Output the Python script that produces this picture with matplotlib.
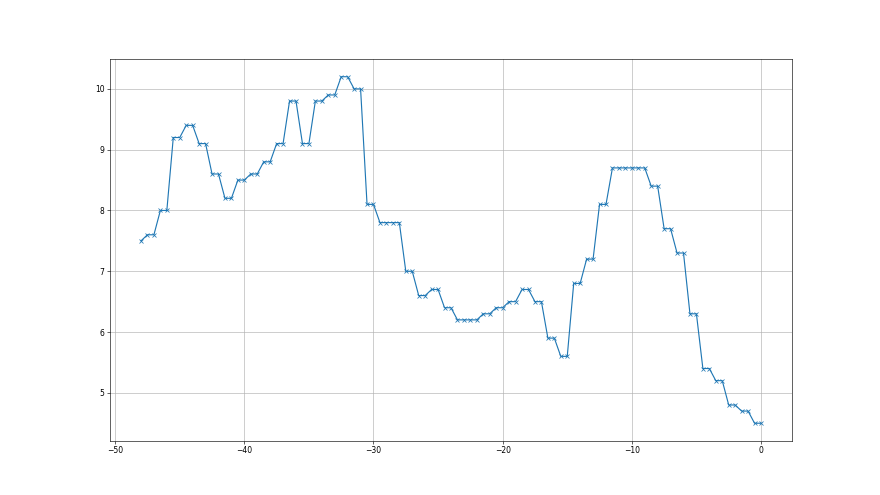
import matplotlib
matplotlib.use("Agg")
import matplotlib.pyplot as plt

hours = [-48, -47.5, -47, -46.5, -46, -45.5, -45, -44.5, -44, -43.5, -43, -42.5, -42,
         -41.5, -41, -40.5, -40, -39.5, -39, -38.5, -38, -37.5, -37, -36.5, -36,
         -35.5, -35, -34.5, -34, -33.5, -33, -32.5, -32, -31.5, -31, -30.5, -30,
         -29.5, -29, -28.5, -28, -27.5, -27, -26.5, -26, -25.5, -25, -24.5, -24,
         -23.5, -23, -22.5, -22, -21.5, -21, -20.5, -20, -19.5, -19, -18.5, -18,
         -17.5, -17, -16.5, -16, -15.5, -15, -14.5, -14, -13.5, -13, -12.5, -12,
         -11.5, -11, -10.5, -10, -9.5, -9, -8.5, -8, -7.5, -7, -6.5, -6,
         -5.5, -5, -4.5, -4, -3.5, -3, -2.5, -2, -1.5, -1, -0.5, 0]

values = [7.5,
          7.6, 7.6, 8.0, 8.0, 9.2, 9.2, 9.4, 9.4, 9.1, 9.1, 8.6, 8.6,
          8.2, 8.2, 8.5, 8.5, 8.6, 8.6, 8.8, 8.8, 9.1, 9.1, 9.8, 9.8,
          9.1, 9.1, 9.8, 9.8, 9.9, 9.9, 10.2, 10.2, 10.0, 10.0, 8.1, 8.1,
          7.8, 7.8, 7.8, 7.8, 7.0, 7.0, 6.6, 6.6, 6.7, 6.7, 6.4, 6.4,
          6.2, 6.2, 6.2, 6.2, 6.3, 6.3, 6.4, 6.4, 6.5, 6.5, 6.7, 6.7,
          6.5, 6.5, 5.9, 5.9, 5.6, 5.6, 6.8, 6.8, 7.2, 7.2, 8.1, 8.1,
          8.7, 8.7, 8.7, 8.7, 8.7, 8.7, 8.4, 8.4, 7.7, 7.7, 7.3, 7.3,
          6.3, 6.3, 5.4, 5.4, 5.2, 5.2, 4.8, 4.8, 4.7, 4.7, 4.5, 4.5]

fig, ax = plt.subplots(figsize=(16, 9), dpi=55)
ax.plot(hours, values, marker="x", color="#1f77b4", linewidth=1.5, markersize=6)
ax.grid(True)
fig.savefig("out.png", dpi=55)
